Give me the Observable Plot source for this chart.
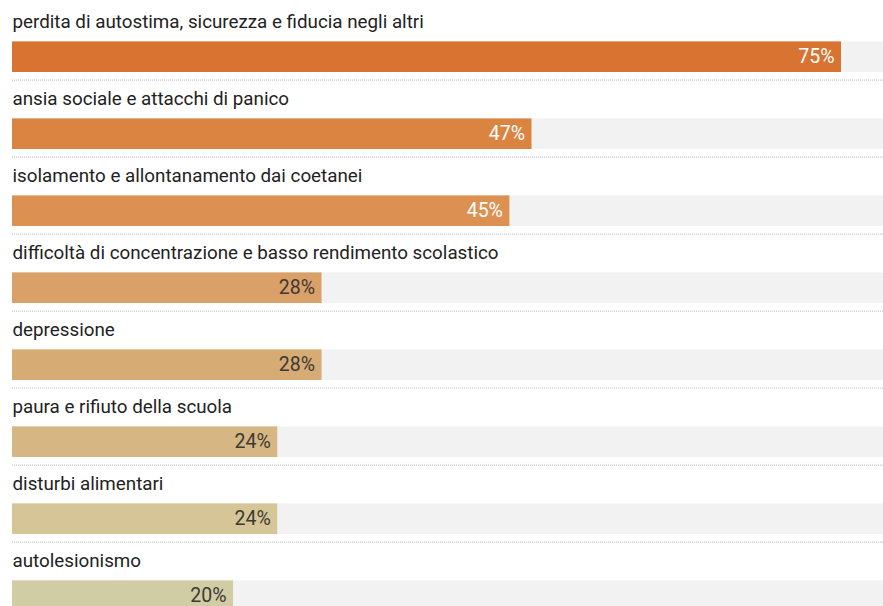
<!DOCTYPE html>
<html>
<head>
<meta charset="utf-8">
<script src="https://cdn.jsdelivr.net/npm/d3@7"></script>
<script src="https://cdn.jsdelivr.net/npm/@observablehq/plot@0.6"></script>
<style>
  html, body { margin: 0; padding: 0; background: #fff; }
  #chart svg { display: block; }
</style>
</head>
<body>
<div id="chart"></div>
<script>
const categories = [
  "perdita di autostima, sicurezza e fiducia negli altri",
  "ansia sociale e attacchi di panico",
  "isolamento e allontanamento dai coetanei",
  "difficoltà di concentrazione e basso rendimento scolastico",
  "depressione",
  "paura e rifiuto della scuola",
  "disturbi alimentari",
  "autolesionismo"
];
const values = [75, 47, 45, 28, 28, 24, 24, 20];
const palette = ["#D87331", "#DB8442", "#DC9152", "#D9A067", "#D7AB74", "#D6B682", "#D5C597", "#D0CDA5"];
const whiteLabelRows = 3;
const xMax = 78.8;

const data = categories.map((c, i) => ({ cat: c, value: values[i], idx: i }));

const rowH = 77.4;
const y0 = 1.6;

const chart = Plot.plot({
  width: 883,
  height: 606,
  marginLeft: 12,
  marginRight: 0,
  marginTop: 0,
  marginBottom: 0,
  style: { fontFamily: "Roboto, sans-serif", background: "#fff" },
  x: { domain: [0, xMax], axis: null },
  y: { type: "band", domain: categories, range: [y0, y0 + rowH * categories.length], padding: 0, axis: null },
  color: { type: "ordinal", domain: categories, range: palette },
  marks: [
    Plot.barX(data, { x1: 0, x2: xMax, y: "cat", fill: "#F2F2F2", insetTop: 38.4, insetBottom: 8 }),
    Plot.barX(data, { x: "value", y: "cat", fill: "cat", insetTop: 38.4, insetBottom: 8 }),
    Plot.ruleY(data, { y: "cat", dy: rowH / 2 - 0.5, stroke: "#c9c9c9", strokeWidth: 1.2, strokeDasharray: "1 1", x1: 0, x2: xMax }),
    Plot.text(data, { x: 0, y: "cat", text: "cat", textAnchor: "start", lineAnchor: "middle", dy: -20.5, fontSize: 18.8, fill: "#222" }),
    Plot.text(data, {
      x: "value", y: "cat", text: d => d.value + "%", textAnchor: "end", lineAnchor: "middle",
      dx: -7, dy: 15, fontSize: 19.5,
      fontWeight: d => d.idx < whiteLabelRows ? 500 : 400,
      fill: d => d.idx < whiteLabelRows ? "#ffffff" : "#3d3a35"
    })
  ]
});
document.getElementById("chart").appendChild(chart);
</script>
</body>
</html>
